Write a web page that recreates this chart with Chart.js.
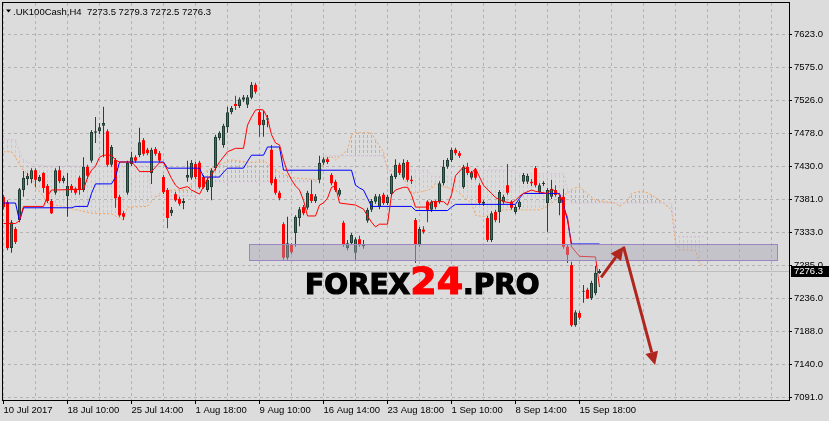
<!DOCTYPE html>
<html>
<head>
  <meta charset="UTF-8">
  <title>UK100Cash H4</title>
  <script src="https://cdn.jsdelivr.net/npm/chart.js"></script>
  <style>
    html, body { margin: 0; padding: 0; background: #dcdcdc; }
    canvas { display: block; }
  </style>
</head>
<body>
<canvas id="chart" width="829" height="421"></canvas>
<script>
  // H4 candles, one entry per bar (oldest first)
  const opens = [7385,7377,7310,7338,7351,7395,7411,7411,7424,7408,7420,7401,7379,7391,7424,7408,7386,7401,7397,7413,
    7395,7429,7438,7479,7481,7489,7481,7432,7439,7385,7361,7391,7433,7443,7446,7468,7454,7420,7455,7449,
    7414,7395,7361,7389,7382,7376,7413,7413,7433,7435,7414,7395,7399,7427,7471,7461,7487,7509,7521,7518,
    7527,7520,7530,7549,7509,7490,7498,7454,7411,7391,7345,7296,7315,7332,7354,7370,7369,7389,7379,7410,
    7435,7440,7417,7407,7388,7347,7310,7317,7303,7323,7313,7350,7366,7378,7370,7388,7376,7389,7414,7432,
    7413,7436,7410,7351,7315,7337,7378,7366,7378,7378,7405,7429,7439,7454,7449,7399,7429,7413,7424,7402,
    7375,7354,7322,7363,7363,7378,7402,7378,7363,7370,7407,7407,7407,7427,7392,7404,7376,7385,7395,7376,
    7385,7312,7285,7197,7215,7246,7249,7237,7244,7273.5];
  const highs = [7388,7380,7351,7341,7398,7423,7420,7427,7427,7417,7421,7404,7382,7427,7430,7416,7420,7404,7399,7416,
    7443,7432,7483,7502,7493,7517,7484,7461,7442,7388,7364,7438,7451,7446,7486,7471,7457,7457,7458,7452,
    7417,7398,7370,7392,7385,7383,7438,7439,7436,7438,7417,7413,7427,7476,7481,7492,7517,7518,7533,7531,
    7534,7534,7553,7552,7512,7511,7505,7461,7414,7394,7348,7356,7317,7358,7370,7373,7394,7410,7389,7445,
    7443,7443,7420,7410,7398,7350,7322,7332,7326,7328,7322,7369,7382,7389,7389,7391,7388,7419,7440,7435,
    7440,7439,7416,7354,7341,7342,7380,7380,7380,7408,7439,7442,7457,7457,7452,7432,7435,7423,7427,7405,
    7380,7357,7364,7366,7395,7388,7433,7380,7373,7380,7420,7419,7411,7430,7405,7408,7398,7410,7402,7388,
    7397,7315,7290,7219,7218,7256,7252,7262,7284,7279.3];
  const lows = [7367,7307,7303,7316,7348,7385,7402,7405,7399,7407,7391,7376,7360,7388,7405,7405,7356,7391,7388,7388,
    7392,7411,7435,7464,7477,7443,7429,7429,7369,7356,7351,7388,7430,7435,7443,7445,7446,7404,7445,7435,
    7389,7339,7357,7378,7372,7367,7407,7410,7411,7397,7397,7392,7380,7424,7468,7457,7479,7506,7512,7515,
    7524,7515,7528,7536,7473,7473,7487,7402,7388,7380,7293,7293,7301,7312,7342,7358,7366,7376,7376,7405,
    7432,7433,7402,7392,7385,7312,7307,7315,7293,7312,7309,7347,7363,7375,7367,7373,7373,7386,7411,7417,
    7410,7407,7404,7288,7312,7331,7348,7363,7367,7375,7402,7426,7436,7446,7442,7397,7417,7410,7410,7373,
    7372,7319,7319,7348,7347,7375,7388,7366,7360,7367,7404,7404,7401,7399,7389,7401,7334,7382,7385,7358,
    7309,7288,7195,7195,7205,7230,7236,7234,7241,7272.5];
  const closes = [7370,7310,7348,7319,7396,7413,7416,7424,7410,7414,7398,7379,7361,7424,7408,7413,7401,7395,7391,7395,
    7429,7416,7480,7481,7487,7493,7432,7458,7383,7358,7356,7435,7443,7438,7465,7448,7449,7454,7448,7438,
    7392,7354,7366,7380,7375,7379,7417,7435,7414,7399,7399,7410,7424,7473,7479,7489,7509,7515,7518,7528,
    7531,7531,7549,7539,7490,7498,7500,7405,7391,7383,7296,7317,7304,7356,7367,7361,7391,7379,7386,7435,
    7440,7436,7405,7395,7395,7315,7317,7329,7323,7315,7316,7366,7379,7386,7386,7376,7385,7416,7432,7420,
    7435,7410,7408,7315,7338,7334,7366,7378,7370,7405,7429,7439,7454,7449,7445,7429,7420,7420,7413,7376,
    7378,7322,7361,7351,7392,7385,7391,7369,7370,7378,7417,7416,7405,7402,7402,7405,7395,7397,7388,7385,
    7312,7300,7197,7216,7208,7247,7236,7259,7274,7276.3];

  // Ichimoku lines (bar index / price)
  const tenkanX = [0,3,4,5,10,11,12,20,21,22,23,24,25,27,28,29,32,33,34,37,39,40,41,42,43,44,46,47,49,50,
    51,52,54,56,58,60,61,62,63,64,65,66,67,68,69,70,71,72,73,74,75,76,78,79,80,81,82,83,84,88,
    90,91,92,93,94,96,97,98,100,101,102,103,106,107,110,111,112,113,115,117,118,119,120,122,123,125,127,128,129,130,
    132,133,136,137,139,140,141,142,144,148,149];
  const tenkanY = [7346,7346,7350,7371,7371,7386,7395,7396,7413,7424,7430,7443,7446,7446,7439,7436,7436,7430,7422,7422,
    7435,7435,7424,7412,7402,7397,7400,7395,7389,7400,7411,7417,7436,7451,7456,7456,7490,7502,7512,7513,
    7512,7500,7476,7464,7461,7439,7421,7410,7401,7395,7380,7357,7357,7373,7376,7383,7399,7401,7376,7373,
    7367,7357,7348,7341,7345,7345,7388,7395,7399,7399,7388,7370,7370,7378,7378,7373,7388,7416,7429,7419,
    7427,7414,7402,7390,7384,7378,7376,7380,7386,7390,7395,7393,7390,7397,7388,7370,7355,7312,7298,7297,7253];
  const kijunX = [0,3,4,5,17,18,21,22,23,27,28,29,40,41,49,50,54,55,56,60,61,62,65,66,69,70,87,88,89,90,
    91,92,102,103,111,112,113,128,129,130,139,140,141,142,149];
  const kijunY = [7376,7376,7350,7369,7369,7371,7371,7390,7404,7404,7414,7436,7436,7427,7427,7414,7414,7421,7427,7427,
    7437,7446,7446,7458,7458,7424,7424,7402,7398,7395,7383,7371,7371,7365,7365,7370,7374,7374,7383,7390,
    7390,7373,7351,7316,7316];
  const spanAX = [0,2,3,4,5,7,8,10,11,13,22,27,29,30,31,36,37,39,41,46,47,51,54,57,61,64,65,67,69,72,
    79,80,82,83,86,87,88,92,93,95,96,99,100,101,102,105,107,108,110,113,115,117,118,120,125,134,136,139,141,142,
    144,146,148,153,154,156,157,159,161,162,165,167,168,169,173,174,175];
  const spanAY = [7451,7451,7443,7432,7424,7414,7400,7385,7376,7373,7361,7360,7354,7351,7370,7371,7378,7390,7395,7395,
    7405,7424,7432,7439,7436,7436,7439,7429,7421,7413,7410,7439,7444,7439,7454,7476,7479,7479,7468,7451,
    7424,7421,7412,7402,7390,7393,7397,7405,7400,7395,7385,7376,7358,7356,7366,7366,7371,7385,7390,7396,
    7400,7390,7380,7376,7371,7380,7390,7393,7391,7388,7376,7366,7317,7307,7307,7288,7285];
  const spanBX = [0,3,4,5,6,8,11,36,37,48,49,79,80,95,96,106,107,113,114,128,129,140,142,167,168,175];
  const spanBY = [7469,7469,7451,7439,7436,7432,7430,7430,7386,7386,7407,7407,7445,7445,7424,7424,7415,7415,7424,7424,
    7419,7419,7376,7376,7327,7327];

  // axes
  const symbolName = '.UK100Cash,H4';
  const xLabels = ['10 Jul 2017','18 Jul 10:00','25 Jul 14:00','1 Aug 18:00','9 Aug 10:00',
    '16 Aug 14:00','23 Aug 18:00','1 Sep 10:00','8 Sep 14:00','15 Sep 18:00'];
  const yTicks = [7091,7140,7188,7236,7285,7333,7381,7430,7478,7526,7575,7623];

  // drawn annotations (bar index / price)
  const zone = { from: 61.4, to: 193.3, top: 7315.5, bottom: 7292.6 };
  const arrowUp = { x1: 149.4, y1: 7267, x2: 155, y2: 7312 };
  const arrowDown = { x1: 155, y1: 7312, x2: 162.9, y2: 7139 };

  const axisFont = { family: 'Liberation Sans', size: 9.5 };
  const bg = '#dcdcdc';

  const canvas = document.getElementById('chart');
  const ctx = canvas.getContext('2d');

  function hatch(color) {
    const c = document.createElement('canvas');
    c.width = 4; c.height = 5;
    const g = c.getContext('2d');
    g.fillStyle = color;
    g.fillRect(3, 0, 1, 3);
    return ctx.createPattern(c, 'repeat');
  }
  const pts = (xs, ys) => xs.map((x, k) => ({ x: x, y: ys[k] }));
  const up = opens.map((o, i) => closes[i] >= o);

  function arrow(c, sx, sy, ex, ey) {
    const a = Math.atan2(ey - sy, ex - sx);
    const head = 13, half = 6.5;
    const bx = ex - head * Math.cos(a), by = ey - head * Math.sin(a);
    c.beginPath();
    c.moveTo(sx, sy);
    c.lineTo(bx, by);
    c.stroke();
    c.beginPath();
    c.moveTo(ex, ey);
    c.lineTo(bx + half * Math.sin(a), by - half * Math.cos(a));
    c.lineTo(bx - half * Math.sin(a), by + half * Math.cos(a));
    c.closePath();
    c.fill();
  }

  function brandPart(c, text, px, x, base, color) {
    c.font = 'bold ' + px + 'px "DejaVu Sans"';
    c.fillStyle = color;
    c.strokeStyle = color;
    c.lineWidth = 1.2;
    c.fillText(text, x, base);
    c.strokeText(text, x, base);
    return x + c.measureText(text).width;
  }

  const overlay = {
    id: 'overlay',
    beforeDraw(chart) {
      const c = chart.ctx;
      c.save();
      c.fillStyle = bg;
      c.fillRect(0, 0, chart.width, chart.height);
      c.restore();
    },
    beforeDatasetsDraw(chart) {
      // bid line
      const { ctx: c, chartArea: a, scales: { y } } = chart;
      const py = Math.round(y.getPixelForValue(closes[closes.length - 1])) + 0.5;
      c.save();
      c.strokeStyle = '#bdbdbd';
      c.lineWidth = 1;
      c.beginPath();
      c.moveTo(a.left, py);
      c.lineTo(a.right, py);
      c.stroke();
      c.restore();
    },
    afterDatasetsDraw(chart) {
      const { ctx: c, scales: { x, y } } = chart;
      c.save();
      // zone
      const zx1 = Math.round(x.getPixelForValue(zone.from)) + 0.5;
      const zx2 = Math.round(x.getPixelForValue(zone.to)) + 0.5;
      const zy1 = Math.round(y.getPixelForValue(zone.top)) + 0.5;
      const zy2 = Math.round(y.getPixelForValue(zone.bottom)) + 0.5;
      c.fillStyle = 'rgba(165,165,178,0.45)';
      c.fillRect(zx1, zy1, zx2 - zx1, zy2 - zy1);
      c.strokeStyle = '#9c86c2';
      c.lineWidth = 1;
      c.strokeRect(zx1, zy1, zx2 - zx1, zy2 - zy1);

      // arrows
      c.strokeStyle = '#b0261e';
      c.fillStyle = '#b0261e';
      c.lineWidth = 3;
      [arrowUp, arrowDown].forEach(r => arrow(c,
        x.getPixelForValue(r.x1), y.getPixelForValue(r.y1),
        x.getPixelForValue(r.x2), y.getPixelForValue(r.y2)));

      // watermark
      const base = 294;
      c.textBaseline = 'alphabetic';
      c.textAlign = 'left';
      let cx = brandPart(c, 'FOREX', 28, 305, base, '#000');
      cx = brandPart(c, '24', 38, cx, base, '#ff0000');
      brandPart(c, '.PRO', 28, cx, base, '#000');
      c.restore();
    },
    afterDraw(chart) {
      const { ctx: c, chartArea: a, scales: { y } } = chart;
      c.save();
      // frame
      c.strokeStyle = '#000';
      c.lineWidth = 1;
      c.strokeRect(a.left + 0.5, a.top - 0.5, a.right - a.left, a.bottom - a.top + 1);

      // header
      c.font = axisFont.size + 'px "' + axisFont.family + '"';
      c.fillStyle = '#000';
      c.beginPath();
      c.moveTo(6, 9.5); c.lineTo(11, 9.5); c.lineTo(8.5, 12.5);
      c.closePath();
      c.fill();
      const n = closes.length - 1;
      const quote = [opens[n], highs[n], lows[n], closes[n]].map(v => v.toFixed(1)).join(' ');
      c.textBaseline = 'alphabetic';
      c.fillText(symbolName + '  ' + quote, 13, 14.5);

      // last price tag
      const py = Math.round(y.getPixelForValue(closes[n]));
      c.fillStyle = '#000';
      c.fillRect(a.right + 2, py - 5, 40, 11);
      c.fillStyle = '#fff';
      c.textBaseline = 'middle';
      c.fillText(closes[n].toFixed(1), a.right + 5, py + 0.5);
      c.restore();
    }
  };

  new Chart(ctx, {
    type: 'bar',
    data: {
      datasets: [
        { type: 'line', label: 'Senkou A', data: pts(spanAX, spanAY), borderColor: '#f4a460', borderWidth: 1,
          borderDash: [2, 2], pointRadius: 0, fill: false, order: 10 },
        { type: 'line', label: 'Senkou B', data: pts(spanBX, spanBY), borderColor: '#d8bfd8', borderWidth: 1,
          borderDash: [2, 2], pointRadius: 0, order: 9,
          fill: { target: 0, above: hatch('#d8bfd8'), below: hatch('#f4a460') } },
        { label: 'wick', data: opens.map((o, i) => ({ x: i, y: [lows[i], highs[i]] })),
          backgroundColor: up.map(u => u ? '#23453a' : '#ff0000'),
          barThickness: 1, grouped: false, inflateAmount: 0, borderWidth: 0, order: 6 },
        { label: 'body', data: opens.map((o, i) => ({ x: i, y: [Math.min(o, closes[i]), Math.max(o, closes[i])] })),
          backgroundColor: up.map(u => u ? '#3a725e' : '#ff0000'),
          borderColor: up.map(u => u ? '#1f3d32' : '#ff0000'),
          borderWidth: up.map(u => u ? 1 : 0), borderSkipped: false,
          barThickness: 3, minBarLength: 1, grouped: false, inflateAmount: 0, order: 5 },
        { type: 'line', label: 'Kijun', data: pts(kijunX, kijunY), borderColor: '#0000ff', borderWidth: 1,
          pointRadius: 0, fill: false, order: 2 },
        { type: 'line', label: 'Tenkan', data: pts(tenkanX, tenkanY), borderColor: '#ff0000', borderWidth: 1,
          pointRadius: 0, fill: false, order: 1 }
      ]
    },
    options: {
      responsive: false,
      animation: false,
      events: [],
      layout: { padding: { left: 2, top: 3, right: 0, bottom: 0 } },
      plugins: { legend: { display: false }, tooltip: { enabled: false } },
      scales: {
        x: {
          type: 'linear',
          offset: false,
          min: -0.375,
          max: 196.375,
          afterBuildTicks: s => { s.ticks = []; for (let v = 0; v <= 192; v += 8) s.ticks.push({ value: v }); },
          afterFit: s => { s.height = 21; s.paddingLeft = 0; s.paddingRight = 0; },
          ticks: {
            autoSkip: false, maxRotation: 0, minRotation: 0, align: 'start', padding: 1,
            color: '#000', font: axisFont,
            callback: v => (v % 16 === 0 && xLabels[v / 16]) ? xLabels[v / 16] : ''
          },
          grid: {
            offset: false, color: '#b3b3b3', lineWidth: 1, tickLength: 4,
            tickColor: c => (c.tick && c.tick.value % 16 === 0 && c.tick.value / 16 < xLabels.length) ? '#000' : 'rgba(0,0,0,0)'
          },
          border: { color: '#000', width: 1, dash: [3, 3] }
        },
        y: {
          type: 'linear',
          position: 'right',
          min: 7087.6,
          max: 7668.8,
          afterBuildTicks: s => { s.ticks = yTicks.map(v => ({ value: v })); },
          afterFit: s => { s.width = 40; s.paddingTop = 0; s.paddingBottom = 0; },
          ticks: { autoSkip: false, padding: 2, color: '#000', font: axisFont, callback: v => v.toFixed(1) },
          grid: { color: '#b3b3b3', lineWidth: 1, tickLength: 3, tickColor: '#000' },
          border: { color: '#000', width: 1, dash: [3, 3] }
        }
      }
    },
    plugins: [overlay]
  });
</script>
</body>
</html>
